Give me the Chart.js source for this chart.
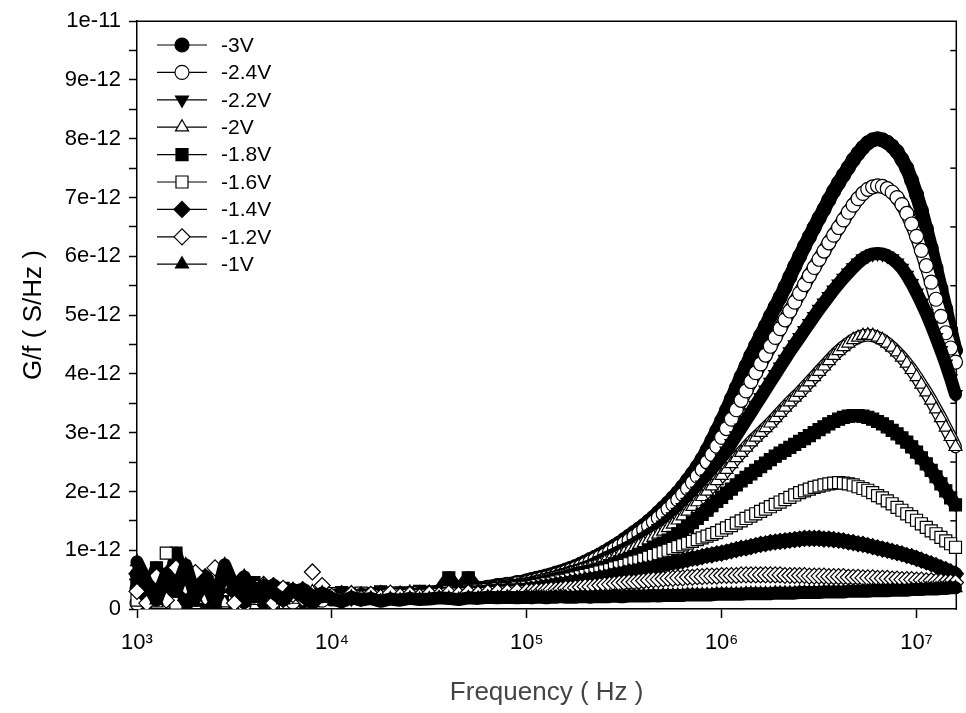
<!DOCTYPE html>
<html>
<head>
<meta charset="utf-8">
<script src="https://cdn.jsdelivr.net/npm/chart.js@4/dist/chart.umd.min.js"></script>
<style>
html,body{margin:0;padding:0;background:#fff;}
#wrap{width:966px;height:713px;position:relative;}
</style>
</head>
<body>
<div id="wrap"><canvas id="c" width="966" height="713"></canvas></div>
<script>
// ---------- DATA ----------
// Frequency (Hz), shared by every series
const FREQ = [
1000,1122,1259,1413,1585,1778,1995,2239,2512,2818,
3162,3548,3981,4467,5012,5623,6310,7079,7943,8913,
10000,11220,12589,14125,15849,17783,19953,22387,25119,28184,
31623,35481,39811,44668,50119,56234,63096,70795,79433,89125,
1.000e5,1.059e5,1.122e5,1.189e5,1.259e5,1.334e5,1.413e5,1.496e5,1.585e5,1.679e5,
1.778e5,1.884e5,1.995e5,2.113e5,2.239e5,2.371e5,2.512e5,2.661e5,2.818e5,2.985e5,
3.162e5,3.350e5,3.548e5,3.758e5,3.981e5,4.217e5,4.467e5,4.732e5,5.012e5,5.309e5,
5.623e5,5.957e5,6.310e5,6.683e5,7.079e5,7.499e5,7.943e5,8.414e5,8.913e5,9.441e5,
1.000e6,1.059e6,1.122e6,1.189e6,1.259e6,1.334e6,1.413e6,1.496e6,1.585e6,1.679e6,
1.778e6,1.884e6,1.995e6,2.113e6,2.239e6,2.371e6,2.512e6,2.661e6,2.818e6,2.985e6,
3.162e6,3.350e6,3.548e6,3.758e6,3.981e6,4.217e6,4.467e6,4.732e6,5.012e6,5.309e6,
5.623e6,5.957e6,6.310e6,6.683e6,7.079e6,7.499e6,7.943e6,8.414e6,8.913e6,9.441e6,
1.000e7,1.059e7,1.122e7,1.189e7,1.259e7,1.334e7,1.413e7,1.496e7,1.585e7
];

const SERIES_NAMES = ['-3V','-2.4V','-2.2V','-2V','-1.8V','-1.6V','-1.4V','-1.2V','-1V'];

// G/f values in units of 1e-12 S/Hz
const V_3_0 = [
0.35,0.12,0.42,0.20,0.55,0.08,0.30,0.45,0.15,0.38,0.10,0.28,0.33,0.12,0.25,0.18,0.30,0.14,0.22,0.26,
0.17,0.21,0.24,0.19,0.22,0.25,0.21,0.24,0.26,0.23,0.27,0.29,0.28,0.31,0.33,0.35,0.37,0.40,0.42,0.45,
0.48,0.50,0.52,0.54,0.56,0.58,0.61,0.63,0.66,0.69,0.72,0.76,0.80,0.84,0.88,0.92,0.97,1.02,1.07,1.12,
1.18,1.24,1.30,1.36,1.42,1.49,1.56,1.64,1.72,1.80,1.89,1.98,2.08,2.19,2.30,2.42,2.55,2.70,2.86,3.03,
3.20,3.38,3.57,3.76,3.95,4.13,4.31,4.48,4.65,4.81,4.98,5.14,5.30,5.47,5.65,5.83,6.00,6.17,6.33,6.49,
6.65,6.80,6.96,7.11,7.25,7.38,7.51,7.64,7.75,7.85,7.93,7.98,8.00,7.98,7.94,7.87,7.78,7.65,7.50,7.29,
7.05,6.78,6.47,6.14,5.80,5.45,5.10,4.75,4.40
];
const V_2_4 = [
0.10,0.45,0.18,0.30,0.05,0.40,0.22,0.12,0.35,0.20,0.30,0.08,0.22,0.30,0.16,0.24,0.12,0.26,0.20,0.15,
0.24,0.18,0.20,0.25,0.21,0.19,0.24,0.22,0.25,0.27,0.24,0.28,0.30,0.29,0.32,0.34,0.36,0.38,0.41,0.43,
0.45,0.47,0.49,0.51,0.53,0.55,0.58,0.60,0.63,0.66,0.69,0.72,0.76,0.80,0.84,0.88,0.92,0.97,1.02,1.07,
1.12,1.17,1.23,1.29,1.35,1.41,1.48,1.55,1.62,1.70,1.78,1.86,1.95,2.05,2.15,2.26,2.37,2.50,2.63,2.77,
2.92,3.07,3.23,3.39,3.55,3.71,3.87,4.02,4.17,4.32,4.47,4.62,4.77,4.92,5.07,5.22,5.37,5.52,5.67,5.81,
5.95,6.09,6.23,6.36,6.49,6.62,6.75,6.87,6.98,7.07,7.14,7.18,7.20,7.19,7.15,7.09,7.00,6.88,6.73,6.55,
6.34,6.10,5.84,5.56,5.27,4.98,4.70,4.44,4.20
];
const V_2_2 = [
0.50,0.25,0.60,0.15,0.40,0.30,0.55,0.10,0.35,0.25,0.42,0.18,0.30,0.22,0.35,0.15,0.28,0.22,0.18,0.27,
0.22,0.26,0.18,0.23,0.27,0.22,0.25,0.28,0.24,0.26,0.29,0.27,0.31,0.30,0.33,0.34,0.36,0.38,0.40,0.41,
0.43,0.45,0.47,0.49,0.51,0.53,0.55,0.58,0.60,0.63,0.65,0.68,0.71,0.74,0.78,0.82,0.86,0.90,0.94,0.98,
1.02,1.06,1.11,1.16,1.21,1.26,1.31,1.37,1.43,1.50,1.57,1.65,1.73,1.82,1.91,2.01,2.11,2.22,2.33,2.45,
2.57,2.69,2.82,2.95,3.08,3.21,3.34,3.47,3.60,3.73,3.86,3.99,4.12,4.25,4.38,4.50,4.62,4.74,4.86,4.98,
5.10,5.21,5.32,5.43,5.53,5.63,5.72,5.81,5.89,5.96,6.01,6.04,6.05,6.04,6.01,5.96,5.89,5.80,5.68,5.54,
5.38,5.21,5.03,4.83,4.62,4.40,4.17,3.92,3.65
];
const V_2_0 = [
0.20,0.55,0.10,0.35,0.28,0.12,0.48,0.30,0.18,0.10,0.36,0.25,0.14,0.32,0.20,0.27,0.17,0.22,0.29,0.19,
0.20,0.24,0.27,0.21,0.24,0.27,0.23,0.26,0.28,0.25,0.28,0.30,0.29,0.31,0.32,0.33,0.35,0.37,0.39,0.40,
0.42,0.44,0.46,0.48,0.50,0.52,0.54,0.56,0.58,0.61,0.63,0.66,0.68,0.71,0.73,0.76,0.80,0.83,0.87,0.91,
0.95,0.99,1.03,1.08,1.12,1.17,1.22,1.27,1.32,1.38,1.44,1.51,1.58,1.66,1.74,1.82,1.91,2.00,2.09,2.18,
2.27,2.37,2.47,2.57,2.66,2.75,2.84,2.92,3.00,3.08,3.16,3.25,3.34,3.43,3.52,3.60,3.68,3.77,3.86,3.95,
4.04,4.13,4.22,4.31,4.39,4.46,4.52,4.58,4.62,4.65,4.66,4.65,4.62,4.58,4.52,4.45,4.37,4.28,4.18,4.07,
3.95,3.82,3.69,3.55,3.40,3.25,3.09,2.93,2.76
];
const V_1_8 = [
0.45,0.30,0.70,0.20,0.95,0.35,0.15,0.50,0.25,0.40,0.18,0.32,0.45,0.20,0.28,0.35,0.22,0.30,0.16,0.26,
0.23,0.28,0.20,0.26,0.24,0.29,0.23,0.27,0.25,0.30,0.27,0.29,0.53,0.30,0.53,0.32,0.34,0.35,0.37,0.39,
0.40,0.41,0.43,0.44,0.46,0.48,0.50,0.52,0.54,0.56,0.58,0.60,0.62,0.64,0.66,0.68,0.71,0.74,0.77,0.80,
0.83,0.86,0.89,0.93,0.96,1.00,1.04,1.08,1.12,1.17,1.22,1.28,1.34,1.40,1.47,1.54,1.61,1.68,1.76,1.83,
1.90,1.97,2.04,2.11,2.18,2.24,2.30,2.36,2.42,2.48,2.54,2.60,2.65,2.70,2.75,2.80,2.85,2.90,2.95,3.00,
3.05,3.10,3.15,3.19,3.23,3.26,3.28,3.29,3.29,3.28,3.26,3.23,3.19,3.15,3.10,3.04,2.98,2.91,2.84,2.76,
2.67,2.57,2.47,2.36,2.25,2.13,2.01,1.89,1.77
];
const V_1_6 = [
0.15,0.40,0.25,0.95,0.10,0.30,0.45,0.20,0.12,0.33,0.25,0.15,0.38,0.24,0.12,0.30,0.20,0.25,0.18,0.22,
0.26,0.20,0.23,0.27,0.22,0.24,0.27,0.24,0.26,0.28,0.26,0.28,0.30,0.29,0.31,0.32,0.33,0.34,0.35,0.36,
0.37,0.38,0.40,0.41,0.43,0.44,0.46,0.48,0.49,0.51,0.53,0.55,0.57,0.59,0.61,0.63,0.65,0.67,0.70,0.72,
0.74,0.77,0.80,0.82,0.85,0.88,0.91,0.94,0.97,1.00,1.03,1.06,1.09,1.12,1.15,1.18,1.21,1.24,1.27,1.30,
1.34,1.38,1.42,1.46,1.50,1.54,1.58,1.62,1.66,1.70,1.74,1.78,1.82,1.86,1.90,1.94,1.98,2.01,2.04,2.07,
2.09,2.11,2.13,2.14,2.15,2.14,2.13,2.11,2.08,2.05,2.02,1.98,1.93,1.89,1.84,1.79,1.73,1.68,1.62,1.57,
1.51,1.45,1.39,1.33,1.28,1.22,1.16,1.11,1.05
];
const V_1_4 = [
0.60,0.20,0.50,0.35,0.65,0.15,0.40,0.55,0.25,0.45,0.30,0.12,0.35,0.25,0.40,0.18,0.28,0.33,0.20,0.24,
0.21,0.26,0.19,0.24,0.22,0.26,0.23,0.25,0.22,0.26,0.25,0.27,0.26,0.28,0.29,0.28,0.30,0.31,0.32,0.32,
0.33,0.34,0.35,0.37,0.38,0.39,0.41,0.42,0.43,0.45,0.46,0.47,0.49,0.50,0.51,0.53,0.54,0.56,0.58,0.59,
0.61,0.63,0.64,0.66,0.68,0.69,0.71,0.73,0.75,0.77,0.79,0.80,0.82,0.84,0.86,0.87,0.89,0.91,0.92,0.94,
0.95,0.97,0.99,1.01,1.03,1.04,1.06,1.08,1.10,1.11,1.13,1.14,1.15,1.16,1.17,1.18,1.19,1.20,1.20,1.20,
1.20,1.19,1.19,1.18,1.17,1.16,1.14,1.13,1.11,1.10,1.08,1.06,1.04,1.02,1.00,0.98,0.96,0.94,0.91,0.89,
0.86,0.83,0.80,0.77,0.74,0.70,0.67,0.63,0.60
];
const V_1_2 = [
0.30,0.10,0.55,0.15,0.70,0.38,0.62,0.20,0.70,0.45,0.10,0.52,0.30,0.42,0.10,0.35,0.25,0.18,0.63,0.40,
0.22,0.14,0.26,0.18,0.25,0.20,0.27,0.22,0.25,0.21,0.26,0.24,0.27,0.25,0.28,0.26,0.28,0.29,0.29,0.30,
0.30,0.30,0.31,0.31,0.32,0.33,0.33,0.34,0.35,0.35,0.36,0.37,0.38,0.38,0.39,0.40,0.41,0.42,0.43,0.44,
0.45,0.46,0.46,0.47,0.48,0.49,0.50,0.50,0.51,0.52,0.52,0.53,0.53,0.54,0.54,0.55,0.55,0.56,0.56,0.56,
0.57,0.57,0.57,0.57,0.58,0.58,0.58,0.58,0.58,0.58,0.58,0.58,0.58,0.57,0.57,0.57,0.57,0.57,0.56,0.56,
0.56,0.56,0.55,0.55,0.55,0.55,0.54,0.54,0.54,0.53,0.53,0.53,0.52,0.52,0.52,0.51,0.51,0.50,0.50,0.50,
0.49,0.49,0.48,0.48,0.47,0.47,0.46,0.46,0.45
];
const V_1_0 = [
0.80,0.45,0.15,0.60,0.30,0.75,0.20,0.50,0.10,0.75,0.35,0.55,0.20,0.40,0.28,0.15,0.33,0.22,0.10,0.27,
0.18,0.12,0.20,0.15,0.18,0.13,0.17,0.15,0.18,0.16,0.17,0.19,0.18,0.16,0.19,0.18,0.20,0.19,0.20,0.19,
0.20,0.19,0.20,0.20,0.19,0.20,0.20,0.21,0.20,0.20,0.20,0.21,0.21,0.20,0.21,0.21,0.21,0.21,0.22,0.21,
0.21,0.22,0.22,0.22,0.22,0.22,0.23,0.22,0.23,0.23,0.23,0.23,0.23,0.24,0.24,0.24,0.24,0.24,0.24,0.25,
0.25,0.25,0.25,0.25,0.25,0.26,0.26,0.26,0.26,0.26,0.26,0.27,0.27,0.27,0.27,0.27,0.28,0.28,0.28,0.28,
0.28,0.29,0.29,0.29,0.29,0.29,0.30,0.30,0.30,0.30,0.30,0.31,0.31,0.31,0.31,0.32,0.32,0.32,0.32,0.33,
0.33,0.33,0.34,0.34,0.34,0.35,0.35,0.36,0.36
];
const SERIES_VALUES = [V_3_0, V_2_4, V_2_2, V_2_0, V_1_8, V_1_6, V_1_4, V_1_2, V_1_0];

const X_TICKS = [1e3, 1e4, 1e5, 1e6, 1e7];
const X_TICK_LABELS = ['10\u00B3', '10\u2074', '10\u2075', '10\u2076', '10\u2077'];
const Y_TICK_LABELS = ['0','1e-12','2e-12','3e-12','4e-12','5e-12','6e-12','7e-12','8e-12','9e-12','1e-11'];
const RIGHT_TICKS = [0.5,1.5,2.5,3.5,4.5,5.5,6.5,7.5,8.5,9.5];
const X_TITLE = 'Frequency ( Hz )';
const Y_TITLE = 'G/f ( S/Hz )';

// ---------- STYLE ----------
const FONT = "'Liberation Sans', Arial, Helvetica, sans-serif";
const MARKERS = [
  {pointStyle:'circle',   rotation:0,   radius:7,   fill:'#000', band:14, bandFrom:1000},
  {pointStyle:'circle',   rotation:0,   radius:7,   fill:'#fff', band:14, bandFrom:10000},
  {pointStyle:'triangle', rotation:180, radius:7.5, fill:'#000', band:13, bandFrom:1000},
  {pointStyle:'triangle', rotation:0,   radius:7.5, fill:'#fff', band:13, bandFrom:10000},
  {pointStyle:'rect',     rotation:0,   radius:8.5, fill:'#000', band:13, bandFrom:1000},
  {pointStyle:'rect',     rotation:0,   radius:8.5, fill:'#fff', band:13, bandFrom:10000},
  {pointStyle:'rectRot',  rotation:0,   radius:8,   fill:'#000', band:14, bandFrom:1000},
  {pointStyle:'rectRot',  rotation:0,   radius:8,   fill:'#fff', band:13, bandFrom:10000},
  {pointStyle:'triangle', rotation:0,   radius:7.5, fill:'#000', band:13, bandFrom:1000}
];
const EDGE = 1.3;

Chart.defaults.font.family = FONT;
Chart.defaults.color = '#000';

function drawMarker(ctx, m, x, y) {
  ctx.fillStyle = m.fill;
  ctx.strokeStyle = '#000';
  ctx.lineWidth = 1.2;
  if (Chart.helpers && Chart.helpers.drawPoint) {
    Chart.helpers.drawPoint(ctx, {pointStyle:m.pointStyle, rotation:m.rotation, radius:m.radius, borderWidth:1.2}, x, y);
  } else {
    ctx.beginPath(); ctx.arc(x, y, m.radius, 0, Math.PI*2); ctx.fill(); ctx.stroke();
  }
}

const framePlugin = {
  id: 'frame',
  beforeDatasetsDraw(chart) {
    const {ctx, chartArea: a, scales: {y}} = chart;
    ctx.save();
    ctx.strokeStyle = '#000';
    ctx.lineWidth = 1.5;
    ctx.beginPath();
    ctx.moveTo(a.left - 0.75, a.top);
    ctx.lineTo(a.right, a.top);
    ctx.lineTo(a.right, a.bottom + 0.75);
    ctx.stroke();
    RIGHT_TICKS.forEach(v => {
      const py = y.getPixelForValue(v);
      ctx.beginPath();
      ctx.moveTo(a.right, py);
      ctx.lineTo(a.right - 6, py);
      ctx.stroke();
    });
    ctx.restore();
  }
};

const legendPlugin = {
  id: 'insideLegend',
  afterDatasetsDraw(chart) {
    const ctx = chart.ctx;
    ctx.save();
    SERIES_NAMES.forEach((name, i) => {
      const y = 45 + i * 27.4;
      ctx.strokeStyle = '#000';
      ctx.lineWidth = 1.2;
      ctx.beginPath(); ctx.moveTo(157, y); ctx.lineTo(207, y); ctx.stroke();
      drawMarker(ctx, MARKERS[i], 182, y);
      ctx.fillStyle = '#000';
      ctx.font = '21px ' + FONT;
      ctx.textBaseline = 'middle';
      ctx.textAlign = 'left';
      ctx.fillText(name, 221, y + 1);
    });
    ctx.restore();
  }
};

// dense measurement points are shown as a continuous marker band (thick stroke) plus the markers
const datasets = [];
SERIES_NAMES.forEach((name, i) => {
  const m = MARKERS[i];
  const pts = FREQ.map((f, k) => ({x: f, y: SERIES_VALUES[i][k]}));
  const base = (SERIES_NAMES.length - i) * 2;
  const open = m.fill === '#fff';
  const segColor = (col) => (c) => FREQ[c.p0DataIndex] < m.bandFrom ? 'rgba(0,0,0,0)' : col;
  if (open) {
    datasets.push({
      label: name + ' band',
      data: pts,
      showLine: true,
      tension: 0,
      borderColor: '#000',
      borderWidth: m.band,
      borderCapStyle: 'round',
      borderJoinStyle: 'round',
      segment: {borderColor: segColor('#000')},
      pointRadius: 0,
      pointHoverRadius: 0,
      order: base + 1,
      clip: {left: 10, top: 10, right: 10, bottom: 0}
    });
  }
  datasets.push({
    label: name,
    data: pts,
    showLine: true,
    tension: 0,
    borderColor: open ? '#fff' : '#000',
    borderWidth: open ? m.band - 2 * EDGE : m.band,
    borderCapStyle: 'round',
    borderJoinStyle: 'round',
    segment: {borderColor: segColor(open ? '#fff' : '#000')},
    pointStyle: m.pointStyle,
    pointRotation: m.rotation,
    pointRadius: m.radius,
    pointHoverRadius: m.radius,
    pointBackgroundColor: m.fill,
    pointBorderColor: '#000',
    pointBorderWidth: 1.2,
    order: base,
    clip: {left: 10, top: 10, right: 10, bottom: 0}
  });
});

new Chart(document.getElementById('c'), {
  type: 'scatter',
  data: {datasets},
  options: {
    responsive: false,
    animation: false,
    devicePixelRatio: 1,
    events: [],
    layout: {padding: {left: 0, top: 19, right: 3, bottom: 0}},
    plugins: {legend: {display: false}, tooltip: {enabled: false}},
    scales: {
      x: {
        type: 'logarithmic',
        position: 'bottom',
        min: 1000,
        max: 1.6e7,
        grid: {display: true, drawOnChartArea: false, drawTicks: true, tickLength: 9, color: '#000', tickWidth: 1.5},
        border: {display: true, color: '#000', width: 1.5},
        ticks: {
          autoSkip: false, maxRotation: 0, padding: 12, color: '#000',
          font: {size: 22},
          callback: (v, idx) => X_TICK_LABELS[idx]
        },
        afterBuildTicks: (s) => { s.ticks = X_TICKS.map(v => ({value: v})); },
        afterFit: (s) => { s.height = 104; },
        title: {display: true, text: X_TITLE, color: '#444', font: {size: 26}, padding: {top: 0, bottom: 5}}
      },
      y: {
        type: 'linear',
        position: 'left',
        min: 0,
        max: 10,
        grid: {display: true, drawOnChartArea: false, drawTicks: true, tickLength: 8, color: '#000', tickWidth: 1.5},
        border: {display: true, color: '#000', width: 1.5},
        ticks: {
          stepSize: 0.5, autoSkip: false, padding: 8, color: '#000',
          font: {size: 22},
          callback: (v) => Number.isInteger(v) ? Y_TICK_LABELS[v] : ''
        },
        afterFit: (s) => { s.width = 137; },
        title: {display: true, text: Y_TITLE, color: '#000', font: {size: 26}, padding: {top: 18, bottom: 0}}
      }
    }
  },
  plugins: [framePlugin, legendPlugin]
});
</script>
</body>
</html>
